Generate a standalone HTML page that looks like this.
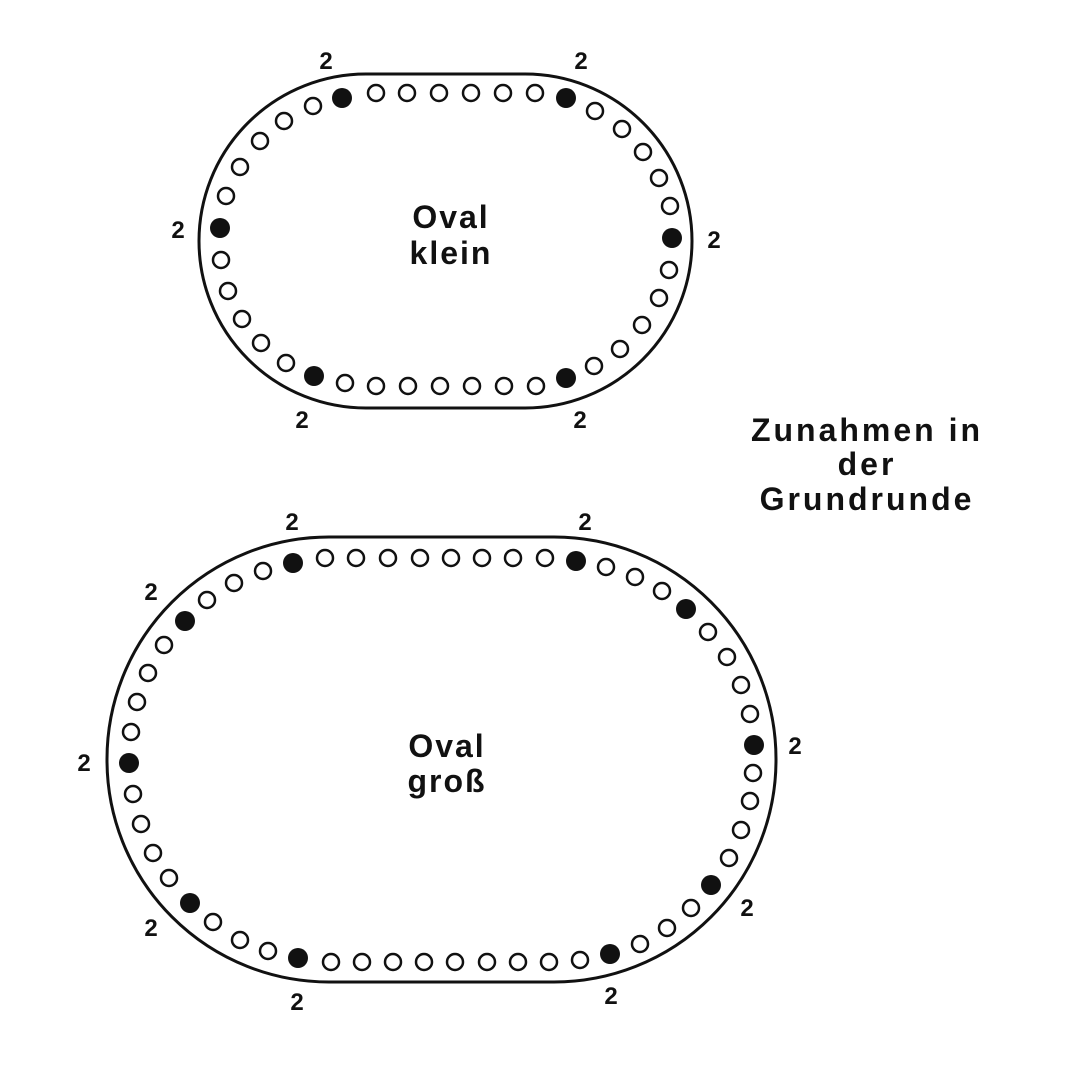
<!DOCTYPE html>
<html><head><meta charset="utf-8"><style>
html,body{margin:0;padding:0;background:#fff;}
svg{display:block;}
text{font-family:"Liberation Sans",sans-serif;font-weight:bold;fill:#111;}
</style></head><body>
<svg width="1080" height="1079" viewBox="0 0 1080 1079" xmlns="http://www.w3.org/2000/svg">
<rect width="1080" height="1079" fill="#fff"/>
<rect x="199" y="74" width="493" height="334" rx="167" ry="167" fill="none" stroke="#111" stroke-width="3"/>
<rect x="107" y="537" width="669" height="445" rx="222" ry="222" fill="none" stroke="#111" stroke-width="3"/>
<g fill="#fff" stroke="#111" stroke-width="2.5">
<circle cx="376" cy="93" r="8"/><circle cx="407" cy="93" r="8"/><circle cx="439" cy="93" r="8"/><circle cx="471" cy="93" r="8"/><circle cx="503" cy="93" r="8"/><circle cx="535" cy="93" r="8"/>
<circle cx="595" cy="111" r="8"/><circle cx="622" cy="129" r="8"/><circle cx="643" cy="152" r="8"/><circle cx="659" cy="178" r="8"/><circle cx="670" cy="206" r="8"/>
<circle cx="669" cy="270" r="8"/><circle cx="659" cy="298" r="8"/><circle cx="642" cy="325" r="8"/><circle cx="620" cy="349" r="8"/><circle cx="594" cy="366" r="8"/>
<circle cx="536" cy="386" r="8"/><circle cx="504" cy="386" r="8"/><circle cx="472" cy="386" r="8"/><circle cx="440" cy="386" r="8"/><circle cx="408" cy="386" r="8"/><circle cx="376" cy="386" r="8"/><circle cx="345" cy="383" r="8"/>
<circle cx="286" cy="363" r="8"/><circle cx="261" cy="343" r="8"/><circle cx="242" cy="319" r="8"/><circle cx="228" cy="291" r="8"/><circle cx="221" cy="260" r="8"/>
<circle cx="226" cy="196" r="8"/><circle cx="240" cy="167" r="8"/><circle cx="260" cy="141" r="8"/><circle cx="284" cy="121" r="8"/><circle cx="313" cy="106" r="8"/>
<circle cx="325" cy="558" r="8"/><circle cx="356" cy="558" r="8"/><circle cx="388" cy="558" r="8"/><circle cx="420" cy="558" r="8"/><circle cx="451" cy="558" r="8"/><circle cx="482" cy="558" r="8"/><circle cx="513" cy="558" r="8"/><circle cx="545" cy="558" r="8"/>
<circle cx="606" cy="567" r="8"/><circle cx="635" cy="577" r="8"/><circle cx="662" cy="591" r="8"/>
<circle cx="708" cy="632" r="8"/><circle cx="727" cy="657" r="8"/><circle cx="741" cy="685" r="8"/><circle cx="750" cy="714" r="8"/>
<circle cx="753" cy="773" r="8"/><circle cx="750" cy="801" r="8"/><circle cx="741" cy="830" r="8"/><circle cx="729" cy="858" r="8"/>
<circle cx="691" cy="908" r="8"/><circle cx="667" cy="928" r="8"/><circle cx="640" cy="944" r="8"/>
<circle cx="580" cy="960" r="8"/><circle cx="549" cy="962" r="8"/><circle cx="518" cy="962" r="8"/><circle cx="487" cy="962" r="8"/><circle cx="455" cy="962" r="8"/><circle cx="424" cy="962" r="8"/><circle cx="393" cy="962" r="8"/><circle cx="362" cy="962" r="8"/><circle cx="331" cy="962" r="8"/>
<circle cx="268" cy="951" r="8"/><circle cx="240" cy="940" r="8"/><circle cx="213" cy="922" r="8"/>
<circle cx="169" cy="878" r="8"/><circle cx="153" cy="853" r="8"/><circle cx="141" cy="824" r="8"/><circle cx="133" cy="794" r="8"/>
<circle cx="131" cy="732" r="8"/><circle cx="137" cy="702" r="8"/><circle cx="148" cy="673" r="8"/><circle cx="164" cy="645" r="8"/>
<circle cx="207" cy="600" r="8"/><circle cx="234" cy="583" r="8"/><circle cx="263" cy="571" r="8"/>
</g>
<g fill="#111">
<circle cx="342" cy="98" r="10"/><circle cx="566" cy="98" r="10"/><circle cx="672" cy="238" r="10"/><circle cx="566" cy="378" r="10"/><circle cx="314" cy="376" r="10"/><circle cx="220" cy="228" r="10"/>
<circle cx="293" cy="563" r="10"/><circle cx="576" cy="561" r="10"/><circle cx="686" cy="609" r="10"/><circle cx="754" cy="745" r="10"/><circle cx="711" cy="885" r="10"/><circle cx="610" cy="954" r="10"/><circle cx="298" cy="958" r="10"/><circle cx="190" cy="903" r="10"/><circle cx="129" cy="763" r="10"/><circle cx="185" cy="621" r="10"/>
</g>
<g font-size="24" text-anchor="middle">
<text x="326" y="69">2</text><text x="581" y="69">2</text><text x="178" y="238">2</text><text x="714" y="248">2</text><text x="302" y="428">2</text><text x="580" y="428">2</text>
<text x="292" y="530">2</text><text x="585" y="530">2</text><text x="151" y="600">2</text><text x="84" y="771">2</text><text x="795" y="754">2</text><text x="747" y="916">2</text><text x="151" y="936">2</text><text x="297" y="1010">2</text><text x="611" y="1004">2</text>
</g>
<g font-size="32" text-anchor="middle" style="letter-spacing:2px">
<text x="451" y="228">Oval</text><text x="451" y="264">klein</text>
<text x="447" y="757">Oval</text><text x="447" y="792">groß</text>
</g>
<g font-size="32" text-anchor="middle" style="letter-spacing:3px" fill="#222">
<text x="867" y="441">Zunahmen in</text><text x="867" y="475">der</text><text x="867" y="510">Grundrunde</text>
</g>
</svg>
</body></html>
